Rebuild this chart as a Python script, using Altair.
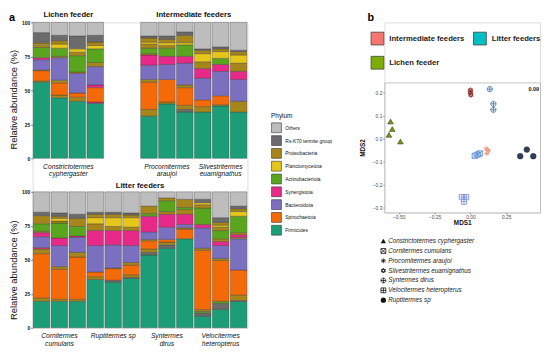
import altair as alt
import pandas as pd

FONT = "Liberation Sans"

# ---------------- panel a : phylum composition ----------------
phyla = ["Others", "Rs-K70 termite group", "Proteobacteria", "Planctomycetota",
         "Actinobacteriota", "Synergistota", "Bacteroidota", "Spirochaetota", "Firmicutes"]
phylum_colors = ["#bdbdbd", "#6b6b6b", "#a6861a", "#e6c619", "#5aa51e",
                 "#e7298a", "#7b6fc0", "#f56a08", "#1b9e77"]
code_names = {"O": "Others", "K": "Rs-K70 termite group", "R": "Proteobacteria",
              "P": "Planctomycetota", "A": "Actinobacteriota", "Y": "Synergistota",
              "B": "Bacteroidota", "S": "Spirochaetota", "F": "Firmicutes"}

lichen_samples = ["Cc1", "Cc2", "Cc3", "Cc4"]
intermediate_samples = ["Pa1", "Pa2", "Pa3", "Se1", "Se2", "Se3"]
litter_samples = ["Cu1", "Cu2", "Cu3", "Ru1", "Ru2", "Ru3",
                  "Sd1", "Sd2", "Sd3", "Vh1", "Vh2", "Vh3"]
top_domain = lichen_samples + ["gap1", "gap2"] + intermediate_samples

# stacked segments, bottom to top (phylum code, relative abundance %)
lichen_segments = [
    [("F", 56), ("R", 1), ("S", 7.5), ("R", 0.5), ("B", 7.5), ("Y", 1.5), ("A", 7.5),
     ("R", 1.5), ("P", 1), ("R", 1), ("K", 7.5), ("O", 7.5)],
    [("F", 44.5), ("R", 2), ("S", 9), ("R", 2), ("B", 16.5), ("R", 1), ("A", 6),
     ("P", 3), ("R", 2.5), ("K", 4), ("O", 9.5)],
    [("F", 42), ("R", 3), ("S", 3), ("B", 14.5), ("R", 1), ("A", 12), ("R", 2.5),
     ("P", 2.5), ("K", 9.5), ("O", 10)],
    [("F", 40.5), ("Y", 1), ("S", 10.5), ("Y", 2), ("B", 13.5), ("R", 3), ("A", 10),
     ("P", 2.5), ("R", 2.5), ("K", 5), ("O", 9.5)],
]
intermediate_segments = [
    [("F", 31), ("R", 5), ("S", 20), ("R", 2), ("B", 10.5), ("Y", 7.5), ("R", 1), ("A", 4),
     ("R", 3), ("P", 1.5), ("R", 3), ("K", 1.5), ("O", 10)],
    [("F", 40), ("R", 1.5), ("S", 16.5), ("B", 11), ("Y", 6), ("A", 6), ("R", 2), ("P", 2),
     ("R", 2.5), ("K", 2.5), ("O", 10)],
    [("F", 34), ("K", 2), ("R", 3), ("S", 13), ("R", 2), ("B", 16), ("Y", 5), ("A", 8.5),
     ("P", 1.5), ("R", 5.5), ("K", 2.5), ("O", 7)],
    [("F", 34), ("R", 4), ("S", 5), ("B", 16), ("Y", 7), ("R", 5), ("P", 6), ("R", 2.5),
     ("K", 1), ("O", 19.5)],
    [("F", 38.5), ("R", 1), ("S", 6.5), ("B", 18), ("Y", 5), ("A", 4.5), ("P", 5), ("R", 2),
     ("K", 1.5), ("O", 18)],
    [("F", 34), ("R", 8), ("B", 16), ("Y", 6), ("R", 6), ("P", 6), ("R", 2.5), ("K", 1),
     ("O", 20.5)],
]
litter_segments = [
    [("F", 19.5), ("R", 2.5), ("S", 32.5), ("R", 3.5), ("Y", 1), ("B", 8), ("Y", 3), ("R", 1),
     ("A", 5.5), ("R", 6), ("K", 2.5), ("O", 15)],
    [("F", 19.5), ("R", 1.5), ("S", 22), ("R", 2), ("B", 15.5), ("Y", 5.5), ("A", 11),
     ("R", 1.5), ("P", 2), ("R", 1.5), ("K", 2.5), ("O", 15.5)],
    [("F", 19.5), ("R", 1.5), ("S", 31), ("R", 3.5), ("B", 11), ("Y", 1), ("A", 7), ("R", 6),
     ("K", 3), ("O", 16.5)],
    [("F", 35.5), ("R", 2), ("S", 3.5), ("B", 19.5), ("Y", 11), ("R", 5), ("P", 4.5),
     ("R", 2.5), ("K", 1.5), ("O", 15)],
    [("F", 33.5), ("K", 1.5), ("S", 8.5), ("R", 0.5), ("B", 17), ("Y", 10.5), ("R", 3),
     ("P", 6.5), ("R", 2.5), ("K", 1.5), ("O", 15)],
    [("F", 36.5), ("Y", 0.5), ("R", 2), ("S", 7), ("R", 2), ("B", 12.5), ("Y", 11), ("R", 2.5),
     ("P", 7), ("R", 2), ("K", 1.5), ("O", 15.5)],
    [("F", 53.5), ("K", 2), ("R", 2.5), ("S", 6), ("R", 1), ("B", 5.5), ("Y", 11.5), ("A", 2),
     ("R", 5.5), ("O", 10.5)],
    [("F", 58.5), ("K", 2.5), ("R", 2), ("S", 2), ("B", 9), ("Y", 9.5), ("R", 2), ("A", 8),
     ("R", 2), ("O", 4.5)],
    [("F", 65.5), ("S", 7), ("R", 1), ("B", 2.5), ("Y", 7.5), ("R", 3.5), ("A", 1.5), ("R", 6),
     ("O", 5.5)],
    [("F", 8.5), ("K", 2.5), ("A", 1), ("R", 1.5), ("S", 43.5), ("R", 1.5), ("B", 15), ("Y", 2.5),
     ("A", 12), ("R", 2.5), ("P", 1.5), ("K", 2.5), ("O", 5.5)],
    [("F", 13.5), ("K", 4.5), ("A", 1.5), ("S", 30), ("R", 1.5), ("B", 9.5), ("Y", 3), ("R", 2),
     ("A", 6), ("R", 2.5), ("P", 1.5), ("R", 2), ("K", 3.5), ("O", 19)],
    [("F", 19.5), ("Y", 0.5), ("R", 4), ("S", 18.5), ("B", 23), ("R", 1), ("Y", 2), ("R", 1.5),
     ("A", 12), ("P", 3.5), ("R", 2), ("K", 2), ("O", 10.5)],
]

top_group_titles = [("Cc2", "Lichen feeder"), ("Pa3", "Intermediate feeders")]
bottom_group_titles = [("Ru3", "Litter feeders")]
lichen_species_label = [("Cc2", "Constrictotermes\ncyphergaster")]
top_species_labels = [("Pa2", "Procornitermes\naraujoi"), ("Se2", "Silvestritermes\neuamignathus")]
bottom_species_labels = [("Cu2", "Cornitermes\ncumulans"), ("Ru2", "Ruptitermes sp"),
                         ("Sd2", "Syntermes\ndirus"), ("Vh2", "Velocitermes\nheteropterus")]
abundance_ticks = [0, 25, 50, 75, 100]

# ---------------- panel b : NMDS ----------------
species = ["Constrictotermes cyphergaster", "Cornitermes cumulans", "Procornitermes araujoi",
           "Silvestritermes euamignathus", "Syntermes dirus", "Velocitermes heteropterus",
           "Ruptitermes sp"]
species_group = ["Lichen feeder", "Litter feeders", "Intermediate feeders",
                 "Intermediate feeders", "Litter feeders", "Litter feeders", "Litter feeders"]
mds1 = [[-0.557, -0.545, -0.568, -0.488], [0.03, 0.05, 0.065], [0.11, 0.125, 0.115],
        [0.0, 0.0, 0.003], [0.135, 0.16, 0.16], [-0.06, -0.03, -0.045], [0.347, 0.393, 0.438]]
mds2 = [[0.074, 0.041, 0.016, -0.013], [-0.075, -0.07, -0.065], [-0.045, -0.052, -0.065],
        [0.21, 0.2, 0.19], [0.215, 0.151, 0.125], [-0.255, -0.255, -0.275], [-0.077, -0.048, -0.077]]
groups = ["Intermediate feeders", "Litter feeders", "Lichen feeder"]
group_colors = ["#F8766D", "#00BFC4", "#7CAE00"]
species_colors = ["#6b9a10", "#5b8fd8", "#e8957a", "#8c2d2d", "#4a78a8", "#7e96d8", "#2c3e5a"]
species_shapes = [
    "triangle-up",
    "M-1,-1L1,-1L1,1L-1,1Z M-1,-1L1,1 M1,-1L-1,1",
    "M0,-1L0,1 M-1,0L1,0 M-0.71,-0.71L0.71,0.71 M0.71,-0.71L-0.71,0.71",
    "M0,-1L0.87,0.5L-0.87,0.5Z M0,1L0.87,-0.5L-0.87,-0.5Z",
    "M-1,0A1,1,0,1,0,1,0A1,1,0,1,0,-1,0Z M-1,0L1,0 M0,-1L0,1",
    "M-1,-1L1,-1L1,1L-1,1Z M0,-1L0,1 M-1,0L1,0",
    "circle",
]
filled_species = ["Constrictotermes cyphergaster", "Ruptitermes sp"]
stress_label = ["0.09"]
mds1_ticks = [-0.5, -0.25, 0.0, 0.25]
mds2_ticks = [-0.3, -0.2, -0.1, 0.0, 0.1, 0.2]


def seg_frame(samples, segments):
    rows = []
    for s, segs in zip(samples, segments):
        for k, (code, v) in enumerate(segs):
            rows.append({"sample": s, "phylum": code_names[code], "value": v, "seg": k})
    return pd.DataFrame(rows)


def label_frame(items):
    return pd.DataFrame([{"sample": a, "label": t} for a, t in items])


top_df = seg_frame(lichen_samples + intermediate_samples, lichen_segments + intermediate_segments)
bottom_df = seg_frame(litter_samples, litter_segments)

W_LEFT = 218
H_LEFT = 310
TOP_RANGE = [138, 0]
BOT_RANGE = [310, 172]


def bars(df, domain, yrange, axis_offset, tick_values, title_y, legend):
    xs = alt.Scale(domain=domain, paddingInner=0.07, paddingOuter=0.03)
    return alt.Chart(df).mark_bar(stroke="#333333", strokeWidth=0.35).encode(
        x=alt.X("sample:N", scale=xs,
                axis=alt.Axis(orient="bottom", offset=axis_offset, values=tick_values,
                              labels=False, domain=False, ticks=True, tickSize=2,
                              tickColor="#666666", tickWidth=0.6, title=None, grid=False)),
        y=alt.Y("value:Q", stack="zero",
                scale=alt.Scale(domain=[0, 100], range=yrange, nice=False),
                axis=alt.Axis(orient="left", values=abundance_ticks, labelFontSize=5,
                              labelFontWeight="bold", labelColor="#111111", labelPadding=1,
                              tickSize=2, tickColor="#333333", tickWidth=0.6, domain=False,
                              grid=False, title="Relative abundance (%)", titleFontSize=9.5,
                              titleFontWeight="normal", titleColor="#111111",
                              titleX=-14, titleY=title_y)),
        color=alt.Color("phylum:N", scale=alt.Scale(domain=phyla, range=phylum_colors),
                        legend=legend),
        order=alt.Order("seg:Q"),
    )


def texts(items, domain, ypix, dx, size, weight, style):
    xs = alt.Scale(domain=domain, paddingInner=0.07, paddingOuter=0.03)
    return alt.Chart(label_frame(items)).mark_text(
        dx=dx, fontSize=size, fontWeight=weight, fontStyle=style, font=FONT,
        lineBreak="\n", lineHeight=7.8, baseline="alphabetic", align="center",
        color="#111111").encode(
        x=alt.X("sample:N", scale=xs, axis=None),
        y=alt.value(ypix),
        text="label:N")


phylum_legend = alt.Legend(orient="none", legendX=242, legendY=92, title="Phylum",
                           titleFontSize=6.5, titleFontWeight="normal", titleFont=FONT,
                           titleColor="#111111", titlePadding=3, labelFontSize=5,
                           labelFont=FONT, labelColor="#111111", symbolType="square",
                           symbolSize=100, symbolStrokeColor="#333333",
                           symbolStrokeWidth=0.6, rowPadding=0, labelOffset=3.5, padding=0)

STEP_HALF = 9.1
top_layer = alt.layer(
    bars(top_df, top_domain, TOP_RANGE, -172, lichen_samples + intermediate_samples, 78,
         phylum_legend),
    texts(top_group_titles, top_domain, -5, STEP_HALF, 7.8, "bold", "normal"),
    texts(lichen_species_label, top_domain, 148.5, STEP_HALF, 6.8, "normal", "italic"),
    texts(top_species_labels, top_domain, 148.5, 0, 6.8, "normal", "italic"),
    alt.Chart(pd.DataFrame({"t": ["a"]})).mark_text(
        align="left", baseline="top", fontSize=11, fontWeight="bold", font=FONT,
        color="#000000").encode(x=alt.value(-24), y=alt.value(-10), text="t:N"),
)
bottom_layer = alt.layer(
    bars(bottom_df, litter_samples, BOT_RANGE, 0, litter_samples, 251, None),
    texts(bottom_group_titles, litter_samples, 168, STEP_HALF, 7.8, "bold", "normal"),
    texts(bottom_species_labels, litter_samples, 320.5, 0, 6.8, "normal", "italic"),
)
left = alt.layer(top_layer, bottom_layer).resolve_scale(
    x="independent", y="independent").properties(width=W_LEFT, height=H_LEFT)

# ---------------- right unit ----------------
pts_rows = []
for sp, g, xs_, ys_ in zip(species, species_group, mds1, mds2):
    for a, b in zip(xs_, ys_):
        pts_rows.append({"species": sp, "group": g, "mds1": a, "mds2": b})
pts_df = pd.DataFrame(pts_rows)
sp_df = pd.DataFrame({"species": species})

W_R = 158
H_R = 193
XDOM = [-0.6, 0.485]
YDOM = [-0.322, 0.244]
YRANGE = [193, 61]
FRAME = "#b5b5b5"

shape_enc = alt.Shape("species:N", scale=alt.Scale(domain=species, range=species_shapes),
                      legend=None)
color_enc = alt.Color("species:N", scale=alt.Scale(domain=species, range=species_colors),
                      legend=None)
x_enc = alt.X("mds1:Q", scale=alt.Scale(domain=XDOM, nice=False, zero=False),
              axis=alt.Axis(values=mds1_ticks, format=".2f", labelFontSize=5,
                            labelColor="#4d4d4d", tickSize=1.5, tickColor="#333333",
                            tickWidth=0.6, domainColor=FRAME, domainWidth=0.8, grid=False,
                            title="MDS1", titleFontSize=6.5, titleFontWeight="bold",
                            titleColor="#111111", titlePadding=0, labelPadding=0.5))
y_enc = alt.Y("mds2:Q", scale=alt.Scale(domain=YDOM, range=YRANGE, nice=False, zero=False),
              axis=alt.Axis(values=mds2_ticks, format=".1f", labelFontSize=5,
                            labelColor="#4d4d4d", tickSize=1.5, tickColor="#333333",
                            tickWidth=0.6, domainColor=FRAME, domainWidth=0.8, grid=False,
                            title="MDS2", titleFontSize=6.5, titleFontWeight="bold",
                            titleColor="#111111", titlePadding=7, labelPadding=1))

frame_layer = alt.Chart(pts_df).mark_square(opacity=0, stroke="#444444", strokeWidth=0.8).encode(
    x=alt.X("mds1:Q", scale=alt.Scale(domain=XDOM, nice=False, zero=False),
            axis=alt.Axis(orient="top", offset=-61, ticks=False, labels=False, title=None,
                          domainColor=FRAME, domainWidth=0.8, grid=False)),
    y=alt.Y("mds2:Q", scale=alt.Scale(domain=YDOM, range=YRANGE, nice=False, zero=False),
            axis=alt.Axis(orient="right", ticks=False, labels=False, title=None,
                          domainColor=FRAME, domainWidth=0.8, grid=False)),
    fill=alt.Fill("group:N", scale=alt.Scale(domain=groups, range=group_colors),
                  legend=alt.Legend(orient="none", legendX=-14, legendY=9, title=None,
                                    direction="horizontal", columns=2, columnPadding=6,
                                    rowPadding=7, symbolType="square", symbolSize=169,
                                    symbolOpacity=1, symbolStrokeColor="#444444",
                                    symbolStrokeWidth=0.8, labelFontSize=7.8,
                                    labelFontWeight="bold", labelFont=FONT,
                                    labelColor="#222222", labelOffset=5, padding=0)),
)

open_pts = alt.Chart(pts_df).transform_filter(
    ~alt.FieldOneOfPredicate(field="species", oneOf=filled_species)
).mark_point(filled=False, size=28, strokeWidth=0.9, opacity=1).encode(
    x=x_enc, y=y_enc, shape=shape_enc, color=color_enc)
filled_pts = alt.Chart(pts_df).transform_filter(
    alt.FieldOneOfPredicate(field="species", oneOf=filled_species)
).mark_point(filled=True, size=34, stroke="#333333", strokeWidth=0.5, opacity=1).encode(
    x=x_enc, y=y_enc, shape=shape_enc, color=color_enc)
points = alt.layer(open_pts, filled_pts)

leg_y = alt.Y("species:N", scale=alt.Scale(type="point", domain=species, range=[222, 282],
                                            padding=0), axis=None)
open_syms = alt.Chart(sp_df).transform_filter(
    ~alt.FieldOneOfPredicate(field="species", oneOf=filled_species)
).mark_point(filled=False, size=24, strokeWidth=0.8, color="#111111", opacity=1).encode(
    x=alt.value(-1), y=leg_y, shape=shape_enc)
filled_syms = alt.Chart(sp_df).transform_filter(
    alt.FieldOneOfPredicate(field="species", oneOf=filled_species)
).mark_point(filled=True, size=28, color="#111111", opacity=1).encode(
    x=alt.value(-1), y=leg_y, shape=shape_enc)
sym_labels = alt.Chart(sp_df).mark_text(
    align="left", baseline="middle", fontSize=6.4, fontStyle="italic", font=FONT,
    color="#222222").encode(x=alt.value(4), y=leg_y, text="species:N")
shape_legend = alt.layer(open_syms, filled_syms, sym_labels)

b_label = alt.Chart(pd.DataFrame({"t": ["b"]})).mark_text(
    align="left", baseline="top", fontSize=11, fontWeight="bold", font=FONT,
    color="#000000").encode(x=alt.value(-17), y=alt.value(-10), text="t:N")
stress = alt.Chart(pd.DataFrame({"t": stress_label})).mark_text(
    align="right", baseline="alphabetic", fontSize=5.5, fontWeight="bold", font=FONT,
    color="#111111").encode(x=alt.value(W_R - 1), y=alt.value(70), text="t:N")

right = alt.layer(frame_layer, points, shape_legend, b_label, stress).resolve_scale(
    x="independent", y="independent").properties(width=W_R, height=H_R)

chart = alt.hconcat(left, right, spacing=139, bounds="flush").resolve_scale(
    color="independent", fill="independent", shape="independent"
).properties(padding=0).configure_view(stroke=None).configure(font=FONT)

chart.save("out.html", embed_options={"renderer": "svg", "actions": False})
